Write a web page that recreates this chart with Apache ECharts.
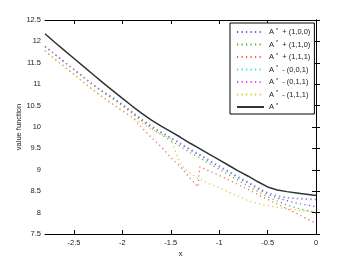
<!DOCTYPE html>
<html><head><meta charset="utf-8">
<script src="https://cdn.jsdelivr.net/npm/echarts@6/dist/echarts.min.js"></script>
<style>html,body{margin:0;padding:0;background:#fff}#c{width:350px;height:264px}</style>
</head><body><div id="c"></div>
<script>
var xs = [-2.8,-2.7,-2.6,-2.5,-2.4,-2.3,-2.2,-2.1,-2.0,-1.9,-1.8,-1.7,-1.6,-1.5,-1.48,-1.4,-1.3,-1.22,-1.2,-1.1,-1.0,-0.9,-0.8,-0.7,-0.6,-0.5,-0.4,-0.3,-0.2,-0.1,0];
var blackY   = [12.18,11.98,11.79,11.60,11.41,11.22,11.03,10.85,10.67,10.49,10.32,10.16,10.02,9.89,9.86,9.76,9.62,9.52,9.49,9.36,9.23,9.10,8.97,8.85,8.72,8.60,8.53,8.49,8.46,8.43,8.40];
var cyanY    = [11.88,11.70,11.52,11.34,11.16,10.98,10.83,10.70,10.54,10.36,10.19,10.03,9.89,9.76,9.73,9.63,9.49,9.39,9.36,9.23,9.10,8.97,8.84,8.72,8.59,8.47,8.40,8.36,8.34,8.33,8.32];
var magentaY = [11.88,11.70,11.52,11.34,11.16,10.98,10.82,10.68,10.52,10.34,10.17,10.01,9.87,9.74,9.71,9.61,9.47,9.37,9.34,9.21,9.08,8.95,8.82,8.70,8.57,8.45,8.38,8.34,8.32,8.31,8.30];
var blueY    = [11.88,11.70,11.52,11.34,11.16,10.98,10.82,10.68,10.52,10.35,10.17,10.01,9.87,9.74,9.71,9.60,9.46,9.36,9.33,9.20,9.07,8.94,8.81,8.69,8.55,8.43,8.34,8.28,8.22,8.18,8.14];
var greenY   = [11.88,11.70,11.52,11.34,11.16,10.98,10.81,10.66,10.49,10.32,10.14,9.97,9.82,9.68,9.65,9.54,9.40,9.30,9.27,9.14,9.01,8.88,8.75,8.62,8.49,8.37,8.27,8.18,8.11,8.05,7.99];
var redY     = [11.78,11.59,11.41,11.23,11.04,10.86,10.69,10.53,10.38,10.23,9.99,9.75,9.54,9.29,9.24,9.07,8.80,8.60,9.07,8.97,8.87,8.76,8.65,8.54,8.42,8.31,8.20,8.09,7.98,7.86,7.75];
var yellowY  = [11.78,11.59,11.41,11.23,11.04,10.86,10.69,10.53,10.38,10.23,10.09,9.95,9.83,9.72,9.70,9.12,8.92,8.80,8.77,8.67,8.58,8.48,8.38,8.28,8.21,8.16,8.12,8.09,8.06,8.04,8.02];
var xTicks = [-2.5,-2,-1.5,-1,-0.5,0];
var names = ['A* + (1,0,0)','A* + (1,1,0)','A* + (1,1,1)','A* - (0,0,1)','A* - (0,1,1)','A* - (1,1,1)','A*'];
var colors = ['#5555ff','#33bb33','#ff5555','#33dddd','#ee44ee','#cccc22','#333333'];
var ys = [blueY, greenY, redY, cyanY, magentaY, yellowY, blackY];

function pairs(y){ return xs.map(function(x,i){ return [x, y[i]]; }); }
var FONT = 'Liberation Sans';
var series = ys.map(function(y, i){
  var solid = i === 6;
  return {
    name: names[i], type: 'line', data: pairs(y), symbol: 'none', z: solid ? 5 : 2,
    animation: false,
    lineStyle: solid ? {color: colors[i], width: 1.5, type: 'solid'} : {color: colors[i], width: 1.2, type: [1.2, 3.3]},
    itemStyle: {color: colors[i], opacity: 0}
  };
});
var chart = echarts.init(document.getElementById('c'), null, {renderer: 'canvas'});
var axLine = {show: true, lineStyle: {color: '#000', width: 1}};
chart.setOption({
  animation: false,
  backgroundColor: '#fff',
  grid: {left: 45, right: 34, top: 20, bottom: 30},
  xAxis: [
    {type: 'value', min: -2.8, max: 0, position: 'bottom', axisLine: axLine,
     axisTick: {inside: true, length: 4, customValues: xTicks, lineStyle: {color: '#000'}},
     axisLabel: {customValues: xTicks, fontSize: 7.5, fontFamily: FONT, color: '#222', margin: 5},
     splitLine: {show: false},
     name: 'x', nameLocation: 'middle', nameGap: 16, nameMoveOverlap: false,
     nameTextStyle: {fontSize: 8, fontFamily: FONT, color: '#222'}},
    {type: 'value', min: -2.8, max: 0, position: 'top', axisLine: axLine,
     axisTick: {inside: true, length: 4, customValues: xTicks, lineStyle: {color: '#000'}},
     axisLabel: {show: false}, splitLine: {show: false}}
  ],
  yAxis: [
    {type: 'value', min: 7.5, max: 12.5, interval: 0.5, position: 'left', axisLine: axLine,
     axisTick: {inside: true, length: 4, lineStyle: {color: '#000'}},
     axisLabel: {fontSize: 7.5, fontFamily: FONT, color: '#222', margin: 4},
     splitLine: {show: false},
     name: 'value function', nameLocation: 'middle', nameGap: 22, nameRotate: 90, nameMoveOverlap: false,
     nameTextStyle: {fontSize: 7.5, fontFamily: FONT, color: '#222'}},
    {type: 'value', min: 7.5, max: 12.5, interval: 0.5, position: 'right', axisLine: axLine,
     axisTick: {inside: true, length: 4, lineStyle: {color: '#000'}},
     axisLabel: {show: false}, splitLine: {show: false}}
  ],
  legend: {
    orient: 'vertical', left: 230, top: 23, data: names,
    itemWidth: 27, itemHeight: 8, itemGap: 2.5,
    padding: [4, 4, 2, 6],
    borderColor: '#000', borderWidth: 1, backgroundColor: '#fff',
    itemStyle: {opacity: 0},
    formatter: function(n){ return n.replace('A*', 'A{s|*}'); },
    textStyle: {fontSize: 7.5, fontFamily: FONT, color: '#222', lineHeight: 10,
      rich: {s: {fontSize: 5.5, fontFamily: FONT, color: '#222', verticalAlign: 'top', lineHeight: 10, padding: [0, 2, 0, 2]}}}
  },
  series: series
});
</script></body></html>
